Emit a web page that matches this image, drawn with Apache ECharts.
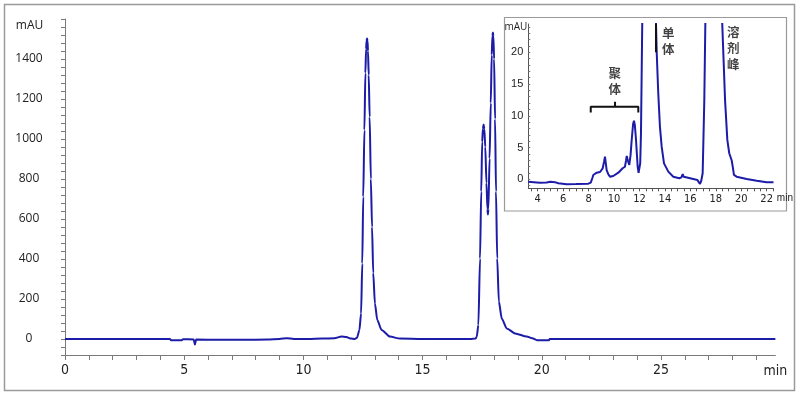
<!DOCTYPE html>
<html><head><meta charset="utf-8">
<script src="https://cdn.jsdelivr.net/npm/echarts@6/dist/echarts.min.js"></script>
<style>html,body{margin:0;padding:0;background:#fff}#c{width:800px;height:396px}</style>
</head><body><div id="c"></div>
<script>
// ---- main chromatogram (min, mAU) ----
const mainT = [0, 1, 2, 3, 4, 4.4, 4.45, 4.9, 4.95, 5.4, 5.45, 5.5, 6.5, 7.5, 8.5, 9.0, 9.3, 9.6, 10.2, 10.8, 11.3, 11.6, 11.8, 12.0, 12.15, 12.25, 12.35, 12.42, 12.47, 12.51, 12.56, 12.6, 12.63, 12.65, 12.67, 12.69, 12.71, 12.74, 12.78, 12.83, 12.88, 12.93, 13.0, 13.1, 13.28, 13.63, 14.05, 15, 16, 17.0, 17.22, 17.27, 17.34, 17.41, 17.46, 17.5, 17.53, 17.56, 17.59, 17.63, 17.68, 17.72, 17.74, 17.76, 17.81, 17.86, 17.9, 17.93, 17.95, 17.97, 18.0, 18.04, 18.08, 18.13, 18.2, 18.32, 18.53, 18.88, 19.37, 19.6, 19.8, 20.3, 20.33, 22, 25, 29.8];
const mainV = [0, 0, 0, 0, 0, 0, -6, -6, -1, -2, -28, -3, -4, -4, -3, 0, 4, 0, 0, 2, 4, 12, 10, 2, 0, 6, 45, 128, 378, 711, 1045, 1330, 1450, 1490, 1503, 1490, 1440, 1320, 1110, 800, 560, 330, 178, 95, 45, 12, 2, 0, 0, 0, 2, 10, 70, 403, 737, 986, 1050, 1073, 1050, 960, 780, 650, 623, 650, 903, 1180, 1420, 1515, 1533, 1515, 1400, 1100, 737, 403, 187, 103, 53, 28, 12, 4, -6, -6, 0, 0, 0, 0];
const mainXLabels = [0, 5, 10, 15, 20, 25];
const mainYLabels = [0, 200, 400, 600, 800, 1000, 1200, 1400];

// ---- inset (zoomed, min, mAU) ----
const insetT = [3.26, 3.7, 4.18, 4.7, 5.0, 5.15, 5.35, 5.62, 6.28, 7.0, 7.98, 8.17, 8.3, 8.37, 8.64, 8.9, 9.11, 9.22, 9.29, 9.35, 9.42, 9.55, 9.68, 9.94, 10.34, 10.68, 10.86, 10.95, 11.0, 11.08, 11.2, 11.3, 11.39, 11.5, 11.57, 11.64, 11.73, 11.86, 11.93, 11.99, 12.06, 12.12, 12.22, 12.75, 13.3, 13.36, 13.48, 13.61, 13.75, 13.93, 14.27, 14.66, 15.13, 15.3, 15.4, 15.48, 15.58, 16.23, 16.55, 16.7, 16.76, 16.85, 16.97, 17.1, 17.18, 17.85, 18.51, 18.73, 18.91, 19.06, 19.25, 19.35, 19.43, 19.64, 20.43, 21.22, 22.0, 22.54];
const insetV = [-0.38, -0.45, -0.53, -0.5, -0.4, -0.33, -0.45, -0.63, -0.79, -0.75, -0.69, -0.53, 0.2, 0.68, 1.04, 1.15, 1.73, 2.8, 3.56, 2.6, 1.46, 0.8, 0.41, 0.52, 1.04, 1.73, 1.98, 3.0, 3.67, 3.0, 2.25, 3.8, 6.19, 8.7, 9.23, 8.5, 6.19, 1.98, 1.0, 0.94, 2.5, 7.24, 24.6, 1500, 24.5, 19.8, 13.5, 8.3, 5.1, 2.5, 1.2, 0.41, 0.16, 0.3, 0.83, 0.4, 0.16, 0.05, -0.1, -0.4, -0.74, -0.3, 0.94, 12.5, 24.5, 1500, 24.5, 12.5, 6.2, 4.1, 3.0, 1.8, 0.68, 0.41, 0.05, -0.22, -0.47, -0.47];
const insetXLabels = [4, 6, 8, 10, 12, 14, 16, 18, 20, 22];
const insetYLabels = [0, 5, 10, 15, 20];

// annotations (inset coordinates)
const bracketT = [8.17, 8.17, 10.08, 10.08, 10.08, 11.91, 11.91];
const bracketV = [10.5, 11.43, 11.43, 12.2, 11.43, 11.43, 10.5];
const markerT = [13.3, 13.3];
const markerV = [24.45, 20];
const noteText = ['聚\n体', '单\n体', '溶\n剂\n峰'];
const noteT = [10.05, 14.27, 19.38];
const noteV = [15.4, 21.7, 20.6];

const zip = (a, b) => a.map((x, i) => [x, b[i]]);
const range = (a, b, s) => { const r = []; for (let v = a; v <= b + 1e-9; v += s) r.push(+v.toFixed(4)); return r; };
const plain = v => String(v);

const axisGrey = '#7a7a7a';
const lineBlue = '#1c1ca8';

const chart = echarts.init(document.getElementById('c'), null, {renderer: 'canvas'});
chart.setOption({
  animation: false,
  backgroundColor: '#fff',
  graphic: [
    {type: 'rect', z: -10, shape: {x: 4.5, y: 4.5, width: 790, height: 386}, style: {fill: '#fff', stroke: '#9a9a9a', lineWidth: 1.5}},
    {type: 'rect', z: -9, shape: {x: 504.5, y: 17.5, width: 282, height: 193.5}, style: {fill: '#fff', stroke: '#9a9a9a', lineWidth: 1.2}}
  ],
  grid: [
    {left: 65, right: 24.6, top: 19, bottom: 41},
    {left: 528.3, right: 26.5, top: 24, bottom: 207.7}
  ],
  xAxis: [
    {type: 'value', gridIndex: 0, min: 0, max: 29.8,
     name: 'min', nameLocation: 'end', nameGap: 0,
     nameTextStyle: {fontFamily: 'Liberation Sans Narrow, DejaVu Sans Condensed, sans-serif', fontSize: 14, color: '#222', align: 'center', verticalAlign: 'top', padding: [9, 0, 0, 0]},
     axisLine: {show: true, onZero: false, lineStyle: {color: axisGrey, width: 1}},
     axisTick: {show: true, inside: false, length: 5, customValues: range(0, 29, 1), lineStyle: {color: axisGrey}},
     axisLabel: {customValues: mainXLabels, formatter: plain, margin: 8, fontFamily: 'Liberation Sans Narrow, DejaVu Sans Condensed, sans-serif', fontSize: 14, color: '#222'},
     splitLine: {show: false}},
    {type: 'value', gridIndex: 1, min: 3.26, max: 22.54,
     name: 'min', nameLocation: 'end', nameGap: 1,
     nameTextStyle: {fontFamily: 'Liberation Sans, sans-serif', fontSize: 10, color: '#222', align: 'left', verticalAlign: 'top', padding: [5, 0, 0, 0]},
     axisLine: {show: true, onZero: false, lineStyle: {color: '#555', width: 1}},
     axisTick: {show: true, inside: false, length: 3, customValues: range(3.5, 22.5, 0.5), lineStyle: {color: '#555'}},
     axisLabel: {customValues: insetXLabels, formatter: plain, margin: 5, fontFamily: 'Liberation Sans Narrow, DejaVu Sans Condensed, sans-serif', fontSize: 11, color: '#222'},
     splitLine: {show: false}}
  ],
  yAxis: [
    {type: 'value', gridIndex: 0, min: -80, max: 1600,
     name: 'mAU', nameLocation: 'end', nameGap: -7,
     nameTextStyle: {fontFamily: 'Open Sans, sans-serif', fontSize: 12, color: '#222', align: 'center', verticalAlign: 'middle', padding: [0, 71, 0, 0]},
     axisLine: {show: true, onZero: false, lineStyle: {color: axisGrey, width: 1}},
     axisTick: {show: true, inside: false, length: 4, customValues: range(-80, 1600, 40), lineStyle: {color: axisGrey}},
     axisLabel: {customValues: mainYLabels, formatter: plain, margin: 36, align: 'center', fontFamily: 'Open Sans, sans-serif', fontSize: 12, color: '#222'},
     splitLine: {show: false}},
    {type: 'value', gridIndex: 1, min: -1.42, max: 24.45,
     name: 'mAU', nameLocation: 'end', nameGap: -3,
     nameTextStyle: {fontFamily: 'Open Sans, sans-serif', fontSize: 10, color: '#222', align: 'right', verticalAlign: 'middle', padding: [0, 1, 0, 0]},
     axisLine: {show: true, onZero: false, lineStyle: {color: '#555', width: 1}},
     axisTick: {show: true, inside: true, length: 2, customValues: range(-1, 24, 1), lineStyle: {color: '#777'}},
     axisLabel: {customValues: insetYLabels, formatter: plain, margin: 5, fontFamily: 'Liberation Sans, sans-serif', fontSize: 11, color: '#222'},
     splitLine: {show: false}}
  ],
  series: [
    {type: 'line', xAxisIndex: 0, yAxisIndex: 0, data: zip(mainT, mainV), showSymbol: false, clip: true,
     smooth: 0.25, smoothMonotone: 'x',
     lineStyle: {color: lineBlue, width: 2}, z: 3},
    {type: 'line', xAxisIndex: 1, yAxisIndex: 1, data: zip(insetT, insetV), showSymbol: false, clip: true,
     lineStyle: {color: lineBlue, width: 2}, z: 3},
    {type: 'line', xAxisIndex: 1, yAxisIndex: 1, data: zip(bracketT, bracketV), showSymbol: false,
     lineStyle: {color: '#111', width: 2}, z: 4},
    {type: 'line', xAxisIndex: 1, yAxisIndex: 1, data: zip(markerT, markerV), showSymbol: false,
     lineStyle: {color: '#111', width: 2}, z: 4},
    {type: 'scatter', xAxisIndex: 1, yAxisIndex: 1, symbolSize: 0, z: 5,
     data: noteText.map((s, i) => ({name: s, value: [noteT[i], noteV[i]]})),
     label: {show: true, position: 'inside', formatter: p => p.name, color: '#111',
       fontFamily: 'Noto Sans CJK SC, sans-serif', fontSize: 12.5, fontWeight: 'bold', lineHeight: 16}}
  ]
});
</script></body></html>
